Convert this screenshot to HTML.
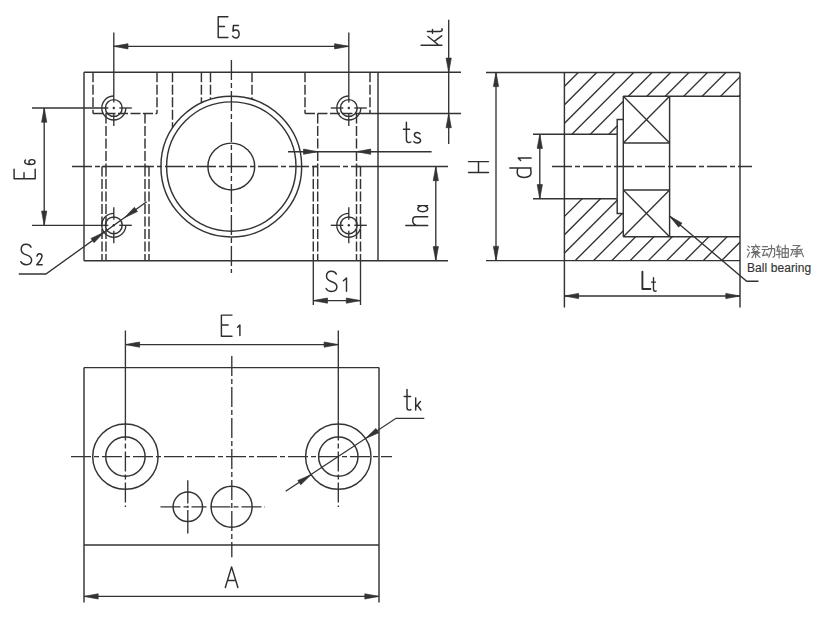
<!DOCTYPE html>
<html><head><meta charset="utf-8"><style>
html,body{margin:0;padding:0;background:#fff;}
body{width:822px;height:630px;overflow:hidden;}
svg{position:absolute;left:0;top:0;}
.hid{stroke-dasharray:10 2.5;}
.ctr{stroke-dasharray:20 3 5 3;}
.ah{fill:#333;stroke:#333;stroke-width:0.7;stroke-linejoin:round;}
.lbl{font-family:"Liberation Sans",sans-serif;}
</style></head><body>
<svg width="822" height="630" viewBox="0 0 822 630">
<g fill="none" stroke="#333" stroke-linecap="butt">
<line x1="84.00" y1="72.30" x2="461.00" y2="72.30" stroke-width="1.45"/>
<line x1="84.00" y1="72.30" x2="84.00" y2="260.80" stroke-width="1.45"/>
<line x1="378.00" y1="72.30" x2="378.00" y2="260.80" stroke-width="1.45"/>
<line x1="84.00" y1="260.80" x2="448.00" y2="260.80" stroke-width="1.45"/>
<line x1="361.00" y1="113.50" x2="461.00" y2="113.50" stroke-width="1.35"/>
<line x1="371.00" y1="166.50" x2="448.00" y2="166.50" stroke-width="1.35"/>
<line x1="72.00" y1="166.50" x2="371.00" y2="166.50" stroke-width="1.35" class="ctr"/>
<line x1="231.40" y1="60.00" x2="231.40" y2="273.00" stroke-width="1.35" class="ctr"/>
<circle cx="231.30" cy="166.55" r="70.40" stroke-width="1.45"/>
<circle cx="231.30" cy="166.55" r="64.70" stroke-width="1.45"/>
<circle cx="231.30" cy="166.50" r="23.40" stroke-width="1.45"/>
<line x1="93.00" y1="72.30" x2="93.00" y2="113.50" stroke-width="1.45" class="hid"/>
<line x1="93.00" y1="113.50" x2="157.00" y2="113.50" stroke-width="1.45" class="hid"/>
<line x1="157.00" y1="72.30" x2="157.00" y2="113.50" stroke-width="1.45" class="hid"/>
<line x1="305.00" y1="72.30" x2="305.00" y2="113.50" stroke-width="1.45" class="hid"/>
<line x1="305.00" y1="113.50" x2="361.00" y2="113.50" stroke-width="1.45" class="hid"/>
<line x1="370.00" y1="72.30" x2="370.00" y2="113.50" stroke-width="1.45" class="hid"/>
<line x1="106.00" y1="113.50" x2="106.00" y2="166.50" stroke-width="1.45" class="hid"/>
<line x1="145.00" y1="113.50" x2="145.00" y2="166.50" stroke-width="1.45" class="hid"/>
<line x1="317.70" y1="113.50" x2="317.70" y2="166.50" stroke-width="1.45" class="hid"/>
<line x1="356.50" y1="113.50" x2="356.50" y2="166.50" stroke-width="1.45" class="hid"/>
<line x1="102.00" y1="166.50" x2="102.00" y2="260.80" stroke-width="1.45" class="hid"/>
<line x1="106.00" y1="166.50" x2="106.00" y2="260.80" stroke-width="1.45" class="hid"/>
<line x1="145.00" y1="166.50" x2="145.00" y2="260.80" stroke-width="1.45" class="hid"/>
<line x1="149.00" y1="166.50" x2="149.00" y2="260.80" stroke-width="1.45" class="hid"/>
<line x1="313.30" y1="166.50" x2="313.30" y2="260.80" stroke-width="1.45" class="hid"/>
<line x1="317.70" y1="166.50" x2="317.70" y2="260.80" stroke-width="1.45" class="hid"/>
<line x1="356.50" y1="166.50" x2="356.50" y2="260.80" stroke-width="1.45" class="hid"/>
<line x1="360.50" y1="166.50" x2="360.50" y2="260.80" stroke-width="1.45" class="hid"/>
<line x1="102.00" y1="166.50" x2="106.00" y2="166.50" stroke-width="1.45"/>
<line x1="145.00" y1="166.50" x2="149.00" y2="166.50" stroke-width="1.45"/>
<line x1="313.30" y1="166.50" x2="317.70" y2="166.50" stroke-width="1.45"/>
<line x1="356.50" y1="166.50" x2="360.50" y2="166.50" stroke-width="1.45"/>
<line x1="172.50" y1="72.30" x2="172.50" y2="127.84" stroke-width="1.45" class="hid"/>
<line x1="201.40" y1="72.30" x2="201.40" y2="102.82" stroke-width="1.45" class="hid"/>
<line x1="210.50" y1="72.30" x2="210.50" y2="99.29" stroke-width="1.45" class="hid"/>
<line x1="252.00" y1="72.30" x2="252.00" y2="99.26" stroke-width="1.45" class="hid"/>
<circle cx="113.80" cy="108.00" r="8.40" stroke-width="1.45"/>
<path d="M113.80,96.00 A12.0,12.0 0 1 0 125.80,108.00" stroke-width="1.35"/>
<line x1="32.00" y1="108.00" x2="108.30" y2="108.00" stroke-width="1.35"/>
<line x1="112.60" y1="108.00" x2="115.00" y2="108.00" stroke-width="1.35"/>
<line x1="119.30" y1="108.00" x2="131.80" y2="108.00" stroke-width="1.35"/>
<line x1="113.80" y1="32.40" x2="113.80" y2="102.50" stroke-width="1.35"/>
<line x1="113.80" y1="106.80" x2="113.80" y2="109.20" stroke-width="1.35"/>
<line x1="113.80" y1="113.50" x2="113.80" y2="126.00" stroke-width="1.35"/>
<circle cx="348.80" cy="108.00" r="8.40" stroke-width="1.45"/>
<path d="M348.80,96.00 A12.0,12.0 0 1 0 360.80,108.00" stroke-width="1.35"/>
<line x1="330.80" y1="108.00" x2="343.30" y2="108.00" stroke-width="1.35"/>
<line x1="347.60" y1="108.00" x2="350.00" y2="108.00" stroke-width="1.35"/>
<line x1="354.30" y1="108.00" x2="366.80" y2="108.00" stroke-width="1.35"/>
<line x1="348.80" y1="32.40" x2="348.80" y2="102.50" stroke-width="1.35"/>
<line x1="348.80" y1="106.80" x2="348.80" y2="109.20" stroke-width="1.35"/>
<line x1="348.80" y1="113.50" x2="348.80" y2="126.00" stroke-width="1.35"/>
<circle cx="113.80" cy="225.30" r="8.40" stroke-width="1.45"/>
<path d="M113.80,213.30 A12.0,12.0 0 1 0 125.80,225.30" stroke-width="1.35"/>
<line x1="32.00" y1="225.30" x2="108.30" y2="225.30" stroke-width="1.35"/>
<line x1="112.60" y1="225.30" x2="115.00" y2="225.30" stroke-width="1.35"/>
<line x1="119.30" y1="225.30" x2="131.80" y2="225.30" stroke-width="1.35"/>
<line x1="113.80" y1="207.30" x2="113.80" y2="219.80" stroke-width="1.35"/>
<line x1="113.80" y1="224.10" x2="113.80" y2="226.50" stroke-width="1.35"/>
<line x1="113.80" y1="230.80" x2="113.80" y2="243.30" stroke-width="1.35"/>
<circle cx="348.80" cy="225.30" r="8.40" stroke-width="1.45"/>
<path d="M348.80,213.30 A12.0,12.0 0 1 0 360.80,225.30" stroke-width="1.35"/>
<line x1="330.80" y1="225.30" x2="343.30" y2="225.30" stroke-width="1.35"/>
<line x1="347.60" y1="225.30" x2="350.00" y2="225.30" stroke-width="1.35"/>
<line x1="354.30" y1="225.30" x2="366.80" y2="225.30" stroke-width="1.35"/>
<line x1="348.80" y1="207.30" x2="348.80" y2="219.80" stroke-width="1.35"/>
<line x1="348.80" y1="224.10" x2="348.80" y2="226.50" stroke-width="1.35"/>
<line x1="348.80" y1="230.80" x2="348.80" y2="243.30" stroke-width="1.35"/>
<line x1="113.80" y1="46.30" x2="348.80" y2="46.30" stroke-width="1.35"/>
<path d="M113.80,46.30 L128.00,43.70 L128.00,48.90 Z" class="ah"/>
<path d="M348.80,46.30 L334.60,48.90 L334.60,43.70 Z" class="ah"/>
<line x1="44.20" y1="108.00" x2="44.20" y2="225.30" stroke-width="1.35"/>
<path d="M44.20,108.00 L46.80,122.20 L41.60,122.20 Z" class="ah"/>
<path d="M44.20,225.30 L41.60,211.10 L46.80,211.10 Z" class="ah"/>
<line x1="448.70" y1="19.70" x2="448.70" y2="144.00" stroke-width="1.35"/>
<path d="M448.70,72.30 L446.10,58.10 L451.30,58.10 Z" class="ah"/>
<path d="M448.70,113.50 L451.30,127.70 L446.10,127.70 Z" class="ah"/>
<line x1="288.00" y1="151.70" x2="431.60" y2="151.70" stroke-width="1.35"/>
<path d="M317.70,151.70 L303.50,154.30 L303.50,149.10 Z" class="ah"/>
<path d="M356.50,151.70 L370.70,149.10 L370.70,154.30 Z" class="ah"/>
<line x1="435.80" y1="166.50" x2="435.80" y2="260.80" stroke-width="1.35"/>
<path d="M435.80,166.50 L438.40,180.70 L433.20,180.70 Z" class="ah"/>
<path d="M435.80,260.80 L433.20,246.60 L438.40,246.60 Z" class="ah"/>
<line x1="313.30" y1="260.80" x2="313.30" y2="305.00" stroke-width="1.35"/>
<line x1="360.50" y1="260.80" x2="360.50" y2="305.00" stroke-width="1.35"/>
<line x1="313.30" y1="300.60" x2="360.50" y2="300.60" stroke-width="1.35"/>
<path d="M313.30,300.60 L327.50,298.00 L327.50,303.20 Z" class="ah"/>
<path d="M360.50,300.60 L346.30,303.20 L346.30,298.00 Z" class="ah"/>
<path d="M18.8,274 H45.9 L146.7,201.71" stroke-width="1.35"/>
<path d="M104.05,232.29 L94.02,242.68 L90.99,238.45 Z" class="ah"/>
<path d="M124.36,217.72 L134.39,207.34 L137.42,211.56 Z" class="ah"/>
<line x1="486.00" y1="72.40" x2="740.00" y2="72.40" stroke-width="1.45"/>
<line x1="486.00" y1="260.60" x2="740.00" y2="260.60" stroke-width="1.45"/>
<line x1="564.40" y1="72.40" x2="564.40" y2="307.50" stroke-width="1.45"/>
<line x1="740.00" y1="72.40" x2="740.00" y2="307.50" stroke-width="1.45"/>
<line x1="533.00" y1="134.20" x2="617.20" y2="134.20" stroke-width="1.45"/>
<line x1="533.00" y1="198.80" x2="617.20" y2="198.80" stroke-width="1.45"/>
<path d="M617.2,134.2 V119.5 H623.3 M617.2,198.8 V213.4 H623.3" stroke-width="1.45"/>
<line x1="617.20" y1="134.20" x2="617.20" y2="198.80" stroke-width="1.45"/>
<line x1="623.30" y1="96.20" x2="740.00" y2="96.20" stroke-width="1.45"/>
<line x1="623.30" y1="236.70" x2="740.00" y2="236.70" stroke-width="1.45"/>
<line x1="623.30" y1="96.20" x2="623.30" y2="236.70" stroke-width="1.45"/>
<line x1="669.60" y1="96.20" x2="669.60" y2="236.70" stroke-width="1.45"/>
<line x1="623.30" y1="142.90" x2="669.60" y2="142.90" stroke-width="1.45"/>
<line x1="623.30" y1="190.00" x2="669.60" y2="190.00" stroke-width="1.45"/>
<line x1="623.30" y1="96.20" x2="669.60" y2="142.90" stroke-width="1.35"/>
<line x1="623.30" y1="142.90" x2="669.60" y2="96.20" stroke-width="1.35"/>
<line x1="623.30" y1="190.00" x2="669.60" y2="236.70" stroke-width="1.35"/>
<line x1="623.30" y1="236.70" x2="669.60" y2="190.00" stroke-width="1.35"/>
<line x1="552.00" y1="166.50" x2="752.00" y2="166.50" stroke-width="1.35" class="ctr"/>
<clipPath id="hc1"><path d="M564.4,72.4 H740 V96.2 H623.3 V119.5 H617.2 V134.2 H564.4 Z"/></clipPath>
<clipPath id="hc2"><path d="M564.4,198.8 H617.2 V213.4 H623.3 V236.7 H740 V260.6 H564.4 Z"/></clipPath>
<path d="M590.8,60 L510.8,140 M609.2,60 L529.2,140 M627.7,60 L547.7,140 M646.2,60 L566.2,140 M664.6,60 L584.6,140 M683.1,60 L603.1,140 M701.5,60 L621.5,140 M720.0,60 L640.0,140 M738.4,60 L658.4,140 M756.9,60 L676.9,140 M775.3,60 L695.3,140 M793.8,60 L713.8,140 M812.2,60 L732.2,140 M830.7,60 L750.7,140" stroke-width="1.35" clip-path="url(#hc1)"/>
<path d="M572.6,190 L492.6,270 M590.9,190 L510.9,270 M609.2,190 L529.2,270 M627.5,190 L547.5,270 M645.8,190 L565.8,270 M664.1,190 L584.1,270 M682.4,190 L602.4,270 M700.7,190 L620.7,270 M719.0,190 L639.0,270 M737.3,190 L657.3,270 M755.6,190 L675.6,270 M773.9,190 L693.9,270 M792.2,190 L712.2,270 M810.5,190 L730.5,270 M828.8,190 L748.8,270 M847.1,190 L767.1,270" stroke-width="1.35" clip-path="url(#hc2)"/>
<line x1="496.00" y1="72.40" x2="496.00" y2="260.60" stroke-width="1.35"/>
<path d="M496.00,72.40 L498.60,86.60 L493.40,86.60 Z" class="ah"/>
<path d="M496.00,260.60 L493.40,246.40 L498.60,246.40 Z" class="ah"/>
<line x1="539.80" y1="134.20" x2="539.80" y2="198.80" stroke-width="1.35"/>
<path d="M539.80,134.20 L542.40,148.40 L537.20,148.40 Z" class="ah"/>
<path d="M539.80,198.80 L537.20,184.60 L542.40,184.60 Z" class="ah"/>
<line x1="564.40" y1="296.00" x2="740.00" y2="296.00" stroke-width="1.35"/>
<path d="M564.40,296.00 L578.60,293.40 L578.60,298.60 Z" class="ah"/>
<path d="M740.00,296.00 L725.80,298.60 L725.80,293.40 Z" class="ah"/>
<path d="M669.5,216 L746.7,281.2 H758.5" stroke-width="1.35"/>
<path d="M669.50,216.00 L682.03,223.18 L678.67,227.15 Z" class="ah"/>
<line x1="84.00" y1="367.60" x2="379.00" y2="367.60" stroke-width="1.45"/>
<line x1="84.00" y1="545.00" x2="379.00" y2="545.00" stroke-width="1.45"/>
<line x1="84.00" y1="367.60" x2="84.00" y2="602.40" stroke-width="1.45"/>
<line x1="379.00" y1="367.60" x2="379.00" y2="602.40" stroke-width="1.45"/>
<line x1="84.00" y1="596.40" x2="379.00" y2="596.40" stroke-width="1.35"/>
<path d="M84.00,596.40 L98.20,593.80 L98.20,599.00 Z" class="ah"/>
<path d="M379.00,596.40 L364.80,599.00 L364.80,593.80 Z" class="ah"/>
<line x1="125.40" y1="330.50" x2="125.40" y2="420.60" stroke-width="1.35"/>
<line x1="338.30" y1="330.50" x2="338.30" y2="420.60" stroke-width="1.35"/>
<line x1="125.40" y1="344.60" x2="338.30" y2="344.60" stroke-width="1.35"/>
<path d="M125.40,344.60 L139.60,342.00 L139.60,347.20 Z" class="ah"/>
<path d="M338.30,344.60 L324.10,347.20 L324.10,342.00 Z" class="ah"/>
<circle cx="125.40" cy="456.60" r="32.70" stroke-width="1.45"/>
<circle cx="125.40" cy="456.60" r="19.70" stroke-width="1.45"/>
<line x1="125.40" y1="420.60" x2="125.40" y2="507.00" stroke-width="1.35" class="ctr"/>
<circle cx="338.30" cy="456.60" r="32.70" stroke-width="1.45"/>
<circle cx="338.30" cy="456.60" r="19.70" stroke-width="1.45"/>
<line x1="338.30" y1="420.60" x2="338.30" y2="507.00" stroke-width="1.35" class="ctr"/>
<line x1="71.00" y1="456.60" x2="392.00" y2="456.60" stroke-width="1.35" class="ctr"/>
<line x1="231.80" y1="356.00" x2="231.80" y2="557.20" stroke-width="1.35" class="ctr"/>
<circle cx="187.80" cy="506.80" r="14.70" stroke-width="1.45"/>
<circle cx="231.60" cy="506.80" r="20.50" stroke-width="1.45"/>
<line x1="160.50" y1="506.80" x2="206.50" y2="506.80" stroke-width="1.35" class="ctr"/>
<line x1="210.50" y1="506.80" x2="265.00" y2="506.80" stroke-width="1.35" class="ctr"/>
<line x1="187.80" y1="480.30" x2="187.80" y2="503.60" stroke-width="1.35"/>
<line x1="187.80" y1="505.80" x2="187.80" y2="507.80" stroke-width="1.35"/>
<line x1="187.80" y1="510.00" x2="187.80" y2="533.50" stroke-width="1.35"/>
<path d="M285.7,491.2 L396.0,418.3 H424.3" stroke-width="1.35"/>
<path d="M311.09,474.73 L300.71,484.77 L297.83,480.44 Z" class="ah"/>
<path d="M365.51,438.47 L375.89,428.43 L378.77,432.76 Z" class="ah"/>
</g>
<g fill="none" stroke="#2e2e2e" stroke-linecap="round" stroke-linejoin="round">
<path d="M 227.90,16.80 L 218.20,16.80 L 218.20,37.50 L 227.90,37.50 M 218.20,26.53 L 224.41,26.53" stroke-width="1.45"/>
<path d="M 238.52,25.40 L 233.43,25.40 L 232.96,31.15 C 233.77,30.40 234.82,30.02 235.86,30.02 C 237.83,30.02 239.10,31.52 239.10,33.90 C 239.10,36.40 237.71,37.90 235.74,37.90 C 234.35,37.90 233.19,37.27 232.50,36.15" stroke-width="1.45"/>
<path d="M 232.00,315.10 L 221.40,315.10 L 221.40,336.20 L 232.00,336.20 M 221.40,325.02 L 228.18,325.02" stroke-width="1.45"/>
<path d="M 237.60,327.20 L 239.90,325.00 L 239.90,335.50" stroke-width="1.45"/>
<path d="M 336.32,274.13 C 335.36,272.31 333.62,271.30 331.50,271.30 C 328.41,271.30 326.49,273.12 326.49,276.35 C 326.49,279.58 328.80,280.79 331.69,281.80 C 334.78,282.81 336.90,284.03 336.90,286.85 C 336.90,289.88 334.78,291.50 331.50,291.50 C 328.99,291.50 327.06,290.29 326.10,288.47" stroke-width="1.45"/>
<path d="M 343.40,280.77 L 346.50,278.00 L 346.50,291.20" stroke-width="1.45"/>
<path d="M 31.02,247.16 C 30.06,245.32 28.32,244.30 26.20,244.30 C 23.11,244.30 21.19,246.14 21.19,249.40 C 21.19,252.66 23.50,253.89 26.39,254.91 C 29.48,255.93 31.60,257.15 31.60,260.01 C 31.60,263.07 29.48,264.70 26.20,264.70 C 23.69,264.70 21.76,263.48 20.80,261.64" stroke-width="1.45"/>
<path d="M 37.00,256.12 C 37.29,254.58 38.27,253.70 39.55,253.70 C 41.02,253.70 42.00,254.69 42.00,256.34 C 42.00,257.77 41.32,258.87 40.14,260.52 L 36.80,264.70 L 42.20,264.70" stroke-width="1.45"/>
<path d="M 225.30,587.50 L 231.60,566.90 L 237.90,587.50 M 227.50,580.50 L 235.69,580.50" stroke-width="1.45"/>
<path d="M 468.50,172.40 L 488.50,172.40 M 468.50,161.60 L 488.50,161.60 M 478.50,172.40 L 478.50,161.60" stroke-width="1.45"/>
<path d="M 14.10,169.20 L 14.10,178.70 L 35.20,178.70 L 35.20,169.20 M 24.02,178.70 L 24.02,172.62" stroke-width="1.45"/>
<path d="M 25.52,160.05 C 25.01,160.51 24.70,161.14 24.70,161.87 C 24.70,163.59 26.97,164.50 30.47,164.50 C 33.45,164.50 35.00,163.59 35.00,161.96 C 35.00,160.51 33.76,159.60 31.91,159.60 C 30.06,159.60 28.92,160.51 28.92,161.96 C 28.92,163.14 29.75,164.14 31.09,164.45" stroke-width="1.45"/>
<path d="M406.4,122.3 L406.4,139.6 C406.4,142 407.5,142.6 408.8,142.6 C409.6,142.6 410.3,142.4 410.8,142.0 M403.4,129.2 L409.6,129.2" stroke-width="1.45"/>
<path d="M420.0,133.9 C419.4,132.9 418.5,132.4 417.3,132.4 C415.4,132.4 414.4,133.4 414.4,135.0 C414.4,136.8 415.8,137.2 417.5,137.7 C419.4,138.2 420.6,138.8 420.6,140.6 C420.6,142.2 419.3,143.0 417.2,143.0 C415.7,143.0 414.6,142.6 413.9,141.6" stroke-width="1.45"/>
<path d="M407.0,389.4 L407.0,407.6 C407.0,409.5 408.0,410.1 409.1,410.1 C409.9,410.1 410.5,409.9 410.9,409.6 M404.2,396.5 L410.6,396.5" stroke-width="1.45"/>
<path d="M415.7,397.9 L415.7,410 M420.4,401.6 L415.7,406.9 M417.4,405.3 L420.9,410" stroke-width="1.45"/>
<path d="M642.4,271.6 L642.4,289.0 L650.4,289.0" stroke-width="1.9"/>
<path d="M653.5,277.6 L653.5,289.0 C653.5,290.8 654.3,291.3 655.2,291.3 C655.6,291.3 655.9,291.2 656.2,291.0 M651.5,282.1 L655.5,282.1" stroke-width="1.4"/>
<path d="M421.1,45.2 L441.9,45.2 M428.0,36.5 L438.9,45.2 M441.7,35.8 L434.3,41.4" stroke-width="1.45"/>
<path d="M427.4,31.5 L439.5,31.5 C441.6,31.5 442.2,30.6 442.2,29.6 C442.2,29.2 442.1,28.9 441.9,28.7 M432.5,33.3 L432.5,29.4" stroke-width="1.45"/>
<path d="M405.8,225.4 L427.7,225.4 M416.5,225.4 C414.0,224.6 412.7,222.6 412.7,220.5 C412.7,218.3 414.0,216.8 416.0,216.8 L427.7,216.8" stroke-width="1.45"/>
<path d="M417.8,205.6 L427.7,205.6 M422.7,205.6 C420.0,205.6 417.8,207.2 417.8,208.6 C417.8,210.3 419.8,211.7 422.7,211.7 C425.6,211.7 427.7,210.3 427.7,208.6 C427.7,207.2 425.6,205.6 422.7,205.6" stroke-width="1.45"/>
<path d="M509.8,167.9 L531.1,167.9 M517.9,167.9 C517.5,169.0 517.2,170.5 517.2,172.6 C517.2,175.6 519.7,177.4 524.2,177.4 C528.7,177.4 531.1,175.6 531.1,172.6 C531.1,170.5 530.7,169.0 530.3,167.9" stroke-width="1.45"/>
<path d="M518.2,158 L531.1,158 M518.2,158 L520.6,160.6" stroke-width="1.45"/>
</g>
<g fill="none" stroke="#6e6e6e" stroke-linecap="round" stroke-linejoin="round">
<path d="M747.9,245.9 L749.4,247.3 M747.2,249.3 L748.7,250.5 M747.4,257.2 L749.5,252.6" stroke-width="1.15"/>
<path d="M755.6,244.8 L756.1,246.0 M751.4,246.6 L759.9,246.6 M754.0,247.6 L752.4,249.6 M757.0,247.6 L759.1,249.6 M755.0,249.0 L753.0,251.5 L757.6,251.2 M757.0,250.4 L758.1,251.8" stroke-width="1.15"/>
<path d="M751.3,252.6 L760.0,252.6 M755.2,252.6 L752.0,257.6 M755.6,253.4 L755.6,257.6 M756.2,253.8 L760.0,257.4 M758.6,253.2 L757.2,254.6" stroke-width="1.15"/>
<path d="M762.6,246.6 L767.6,246.6 M762.0,249.5 L768.5,249.5 M765.0,249.5 L762.6,255.6 L768.0,254.6 M766.5,253.0 L768.0,255.8" stroke-width="1.15"/>
<path d="M768.6,248.6 L774.6,248.6 L774.6,256.0 L773.0,257.2 M771.5,245.0 L771.5,250.5 L768.8,257.3" stroke-width="1.15"/>
<path d="M776.3,247.0 L781.0,247.0 M778.6,245.0 L777.0,251.2 L781.0,251.2 M779.1,249.0 L779.1,258.0 M776.2,254.6 L781.3,254.0" stroke-width="1.15"/>
<path d="M782.1,248.6 L788.3,248.6 L788.3,257.3 L782.1,257.3 Z M785.2,245.0 L785.2,257.3 M782.1,252.9 L788.3,252.9" stroke-width="1.15"/>
<path d="M793.0,245.5 L800.0,245.5 L797.0,247.6 M797.0,247.6 L797.0,257.0 L795.5,256.4" stroke-width="1.15"/>
<path d="M794.5,249.6 L799.6,249.6 M794.5,251.8 L799.6,251.8 M793.6,254.1 L800.6,253.6" stroke-width="1.15"/>
<path d="M791.0,249.6 L793.6,249.6 L790.8,255.8 M800.2,249.2 L803.4,256.6 M802.2,249.0 L800.7,251.0" stroke-width="1.15"/>
</g>
<text x="747.0" y="271.9" class="lbl" font-size="12" fill="#333" stroke="#333" stroke-width="0.15" textLength="64.3" lengthAdjust="spacing">Ball bearing</text>
</svg>
</body></html>
